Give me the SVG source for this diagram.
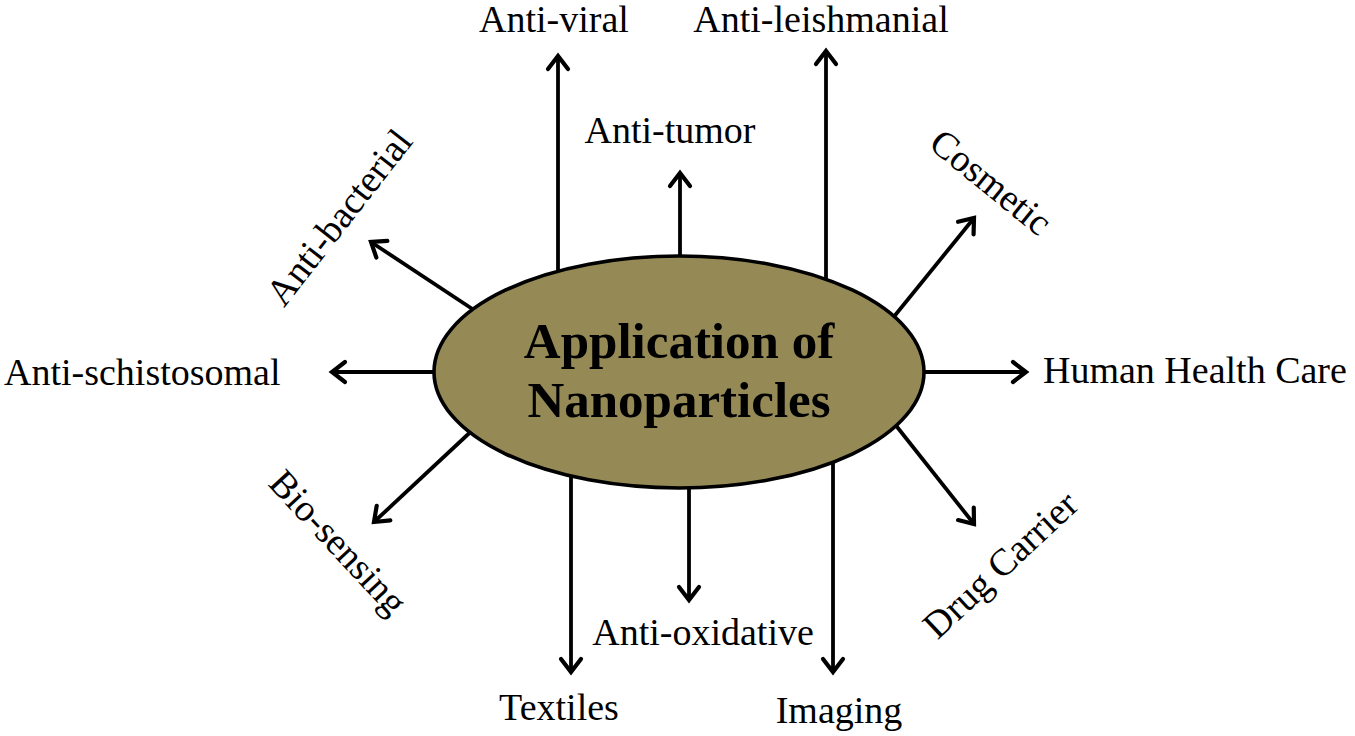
<svg xmlns="http://www.w3.org/2000/svg" width="1355" height="736" viewBox="0 0 1355 736">
<style>
.lbl{font-family:"Liberation Serif","Times New Roman",serif;font-size:38px;fill:#000}
.ttl{font-family:"Liberation Serif","Times New Roman",serif;font-size:51px;font-weight:bold;fill:#000}
.arr{stroke:#000;stroke-width:3.8;fill:none;marker-end:url(#ah)}
</style>
<defs>
<marker id="ah" markerUnits="userSpaceOnUse" markerWidth="30" markerHeight="30" refX="0" refY="0" viewBox="-20 -15 30 30" orient="auto" overflow="visible">
<path d="M-13,-10 L0,0 L-13,10" fill="none" stroke="#000" stroke-width="4.2" stroke-linejoin="miter" stroke-linecap="round"/>
</marker>
</defs>
<rect width="1355" height="736" fill="#fff"/>
<g id="connectors">
<line class="arr" x1="558" y1="280" x2="558" y2="56"/>
<line class="arr" x1="826" y1="280" x2="826" y2="51"/>
<line class="arr" x1="680" y1="270" x2="680" y2="173"/>
<line class="arr" x1="571" y1="460" x2="571" y2="672"/>
<line class="arr" x1="689" y1="470" x2="689" y2="600"/>
<line class="arr" x1="833" y1="460" x2="833" y2="672"/>
<line class="arr" x1="445" y1="372" x2="332" y2="372"/>
<line class="arr" x1="915" y1="372" x2="1026" y2="372"/>
<line class="arr" x1="480" y1="314" x2="371" y2="242"/>
<line class="arr" x1="888" y1="324" x2="974" y2="218"/>
<line class="arr" x1="478" y1="425" x2="374" y2="522"/>
<line class="arr" x1="890" y1="418" x2="974" y2="524"/>
</g>
<g id="center">
<ellipse cx="679" cy="372" rx="245" ry="116" fill="#958a56" stroke="#000" stroke-width="3.6"/>
<text class="ttl" x="679" y="358" text-anchor="middle">Application of</text>
<text class="ttl" x="679" y="417" text-anchor="middle">Nanoparticles</text>
</g>
<g id="anti-viral"><text class="lbl" x="554" y="32" text-anchor="middle">Anti-viral</text></g>
<g id="anti-leishmanial"><text class="lbl" x="821" y="32" text-anchor="middle">Anti-leishmanial</text></g>
<g id="anti-tumor"><text class="lbl" x="670" y="143" text-anchor="middle">Anti-tumor</text></g>
<g id="anti-oxidative"><text class="lbl" x="703" y="645" text-anchor="middle">Anti-oxidative</text></g>
<g id="textiles"><text class="lbl" x="559" y="720" text-anchor="middle">Textiles</text></g>
<g id="imaging"><text class="lbl" x="839" y="723" text-anchor="middle">Imaging</text></g>
<g id="anti-schistosomal"><text class="lbl" x="4" y="385">Anti-schistosomal</text></g>
<g id="human-health-care"><text class="lbl" x="1043" y="383">Human Health Care</text></g>
<g id="anti-bacterial"><text class="lbl" text-anchor="middle" transform="translate(349,225) rotate(-52)">Anti-bacterial</text></g>
<g id="bio-sensing"><text class="lbl" text-anchor="middle" transform="translate(329,551) rotate(47)">Bio-sensing</text></g>
<g id="cosmetic"><text class="lbl" text-anchor="middle" transform="translate(983,192) rotate(39)">Cosmetic</text></g>
<g id="drug-carrier"><text class="lbl" text-anchor="middle" transform="translate(1009,574) rotate(-43)">Drug Carrier</text></g>
</svg>
